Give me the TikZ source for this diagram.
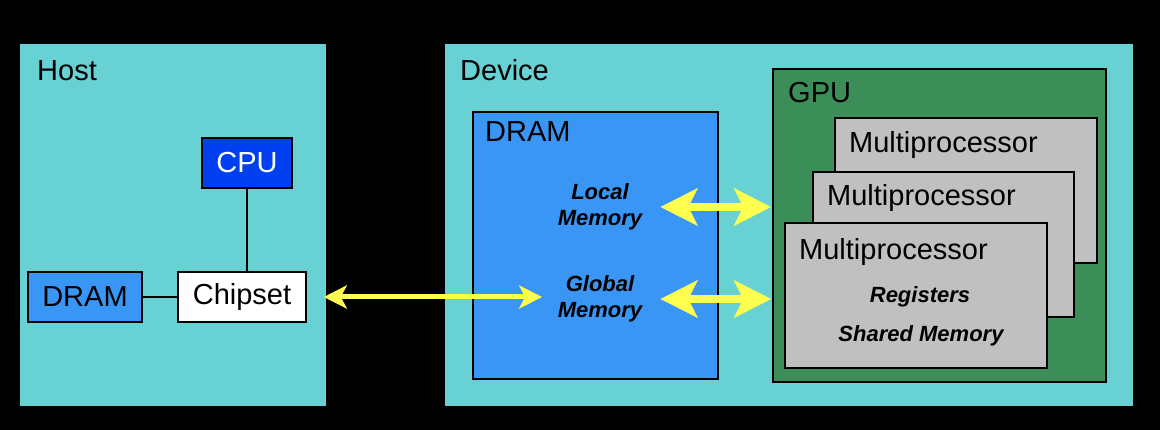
\documentclass[tikz,border=0pt]{standalone}
\usepackage{fontspec}
\setmainfont{Liberation Sans}
\usetikzlibrary{arrows.meta}

\definecolor{bgcyan}{RGB}{104,209,211}
\definecolor{dramblue}{RGB}{58,150,245}
\definecolor{cpublue}{RGB}{0,64,240}
\definecolor{gpugreen}{RGB}{60,142,88}
\definecolor{mpgray}{RGB}{192,192,192}
\definecolor{busyellow}{RGB}{255,255,80}

\tikzset{
  region/.style={fill=bgcyan, draw=none, inner sep=0pt},
  box/.style={draw=black, line width=1.5pt, inner sep=0pt},
  big/.style={font=\fontsize{29}{34}\selectfont},
  title/.style={big, anchor=base west, inner sep=0pt},
  memtxt/.style={font=\fontsize{22}{26}\selectfont\bfseries\itshape, align=center, inner sep=0pt},
  link/.style={draw=black, line width=1.5pt},
  hostbus/.style={draw=busyellow, line width=5pt, {Stealth[length=23pt,width=23pt,inset=6pt]}-{Stealth[length=23pt,width=23pt,inset=6pt]}},
  devbus/.style={draw=busyellow, line width=8pt, {Stealth[length=37pt,width=37pt,inset=9pt]}-{Stealth[length=37pt,width=37pt,inset=9pt]}}
}

\begin{document}
\begin{tikzpicture}[x=1pt,y=-1pt]
  % Background and frame
  \fill[black] (0,0) rectangle (1160,430);
  \useasboundingbox (0,0) rectangle (1160,430);

  % Host side
  \node[region, minimum width=306pt, minimum height=362pt] (host) at (173,225) {};
  \node[title] (hostlbl) at (37,81) {Host};
  \node[box, fill=cpublue, text=white, big, minimum width=90pt, minimum height=50pt] (cpu) at (247,163) {CPU};
  \node[box, fill=dramblue, big, minimum width=114pt, minimum height=50pt] (hdram) at (85,297) {DRAM};
  \node[box, fill=white, big, minimum width=128pt, minimum height=50pt] (chip) at (242,297) {Chipset};
  \draw[link] (cpu.south) -- (cpu.south |- chip.north); % CPU to chipset
  \draw[link] (hdram) -- (chip); % host DRAM to chipset

  % Device side
  \node[region, minimum width=688pt, minimum height=362pt] (dev) at (789,225) {};
  \node[title] (devlbl) at (460,81) {Device};
  \node[box, fill=dramblue, minimum width=245pt, minimum height=267pt] (ddram) at (595.5,245.5) {};
  \node[title] (ddramlbl) at (485,142) {DRAM};
  \node[memtxt] (loc) at (600,207) {Local\\Memory};
  \node[memtxt] (glob) at (600,299) {Global\\Memory};

  % GPU and its multiprocessors
  \node[box, fill=gpugreen, minimum width=333pt, minimum height=313pt] (gpu) at (939.5,225.5) {};
  \node[title] (gpulbl) at (788,103) {GPU};
  \node[box, fill=mpgray, minimum width=262pt, minimum height=145pt] (mpa) at (966,190.5) {};
  \node[title] (mpalbl) at (849,153) {Multiprocessor};
  \node[box, fill=mpgray, minimum width=261pt, minimum height=145pt] (mpb) at (943.5,244.5) {};
  \node[title] (mpblbl) at (827,206) {Multiprocessor};
  \node[box, fill=mpgray, minimum width=262pt, minimum height=145pt] (mpc) at (916,295.5) {};
  \node[title] (mpclbl) at (799,260) {Multiprocessor};
  \node[memtxt, anchor=base] (regs) at (920,303) {Registers};
  \node[memtxt, anchor=base] (shmem) at (921,342) {Shared Memory};

  % Memory buses
  \draw[hostbus, shorten <=17pt, shorten >=15.5pt] (chip.east) -- (chip.east -| glob.west);
  \draw[devbus, shorten <=18pt, shorten >=1pt] (loc.east) -- (loc.east -| gpu.west);
  \draw[devbus, shorten <=18pt, shorten >=1pt] (glob.east) -- (glob.east -| gpu.west);
\end{tikzpicture}
\end{document}
